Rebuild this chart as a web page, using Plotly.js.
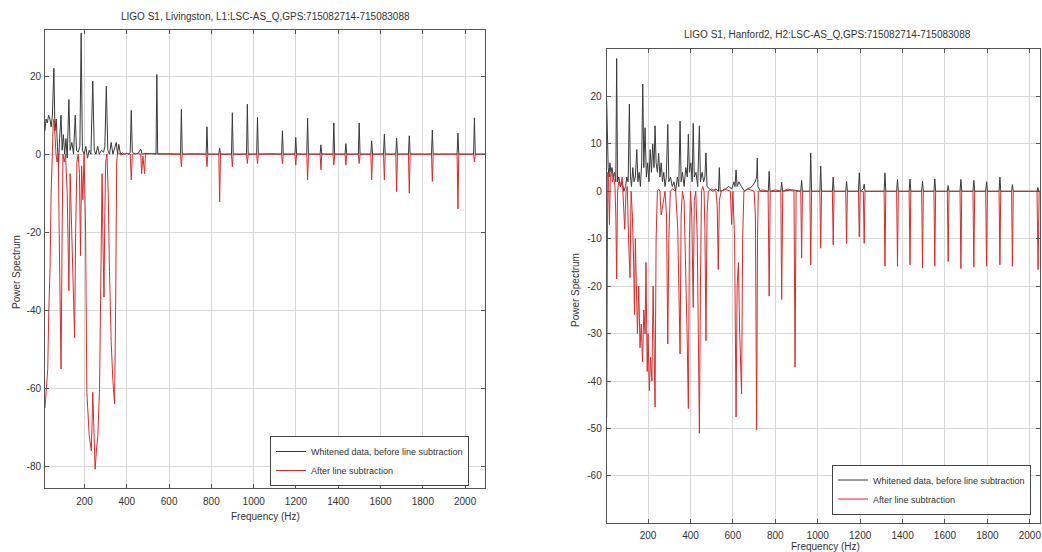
<!DOCTYPE html>
<html>
<head>
<meta charset="utf-8">
<script src="https://cdn.plot.ly/plotly-3.0.0.min.js"></script>
<style>html,body{margin:0;padding:0;background:#fff;}#chart{width:1042px;height:552px;}</style>
</head>
<body>
<div id="chart"></div>
<script>
// ---- Data (frequency Hz, power) ----
const seriesNames = ['Whitened data, before line subtraction', 'After line subtraction'];
const titleLiv = 'LIGO S1, Livingston, L1:LSC-AS_Q,GPS:715082714-715083088';
const titleHan = 'LIGO S1, Hanford2, H2:LSC-AS_Q,GPS:715082714-715083088';

const livBefore = [[13,6],[18,9],[24,8],[30,10],[36,9],[42,7],[48,10],[55,22],[60,6],[66,9],
 [72,2],[77,-3],[82,4],[89,10],[94,1],[100,5],[106,0],[112,4],[118,-1],[126,14],
 [132,1],[140,3],[148,0],[156,10],[162,1],[170,0.5],[178,2],[184,31],[190,1],[198,0],
 [206,2],[214,-1],[222,1],[230,0],[239,18.7],[246,1],[254,0],[262,2],[270,0],[280,1],
 [290,0.5],[296,2],[303,17.4],[310,1],[318,0],[326,3],[334,0],[342,1.5],[350,3],[356,0],
 [362,2.5],[370,0],[380,0.3],[390,0],[400,0.2],[410,0],[416,0.5],[421,11.2],[426,0.5],[440,0],
 [455,0.3],[466,1.3],[472,0],[490,0.2],[520,0],[538,0],[542,20.4],[546,0],[600,0.1],[654,0],
 [658,11.5],[662,0],[720,0.1],[775,0],[779,7],[783,0],[835,0],[839,1.5],[843,0],[895,0],
 [899,10.6],[903,0],[966,0],[970,12.8],[974,0],[1014,0],[1018,9.4],[1022,0],[1080,0.1],[1132,0],
 [1136,6],[1140,0],[1195,0],[1199,4.3],[1203,0],[1251,0],[1255,9.2],[1259,0],[1314,0],[1318,2.4],
 [1322,0],[1375,0],[1379,8],[1383,0],[1432,0],[1436,2.7],[1440,0],[1495,0],[1499,8],[1503,0],
 [1554,0],[1558,3.4],[1562,0],[1614,0],[1618,5.1],[1622,0],[1672,0],[1676,4.1],[1680,0],[1732,0],
 [1736,4.7],[1740,0],[1841,0],[1845,6.2],[1849,0],[1962,0],[1966,5.4],[1970,0],[2040,0],[2044,9.3],
 [2048,0],[2094,0]];

const livAfter = [[13,-65],[18,-60],[22,-57],[26,-55],[31,-40],[37,-29],[42,-10],[47,0],[52,8],[56,9],
 [60,4],[65,0],[70,-2],[76,0],[80,-20],[85,-40],[89,-55],[94,-20],[98,0],[104,-2],
 [110,0],[118,-10],[126,-35],[132,-5],[140,-20],[146,-30],[153,-47],[158,-20],[164,-2],[170,0],
 [176,-5],[181,-26],[186,-3],[192,-11.7],[198,0],[205,-20],[211,-61],[222,-72],[232,-76],[236,-68],
 [239,-61],[244,-70],[250,-80.7],[256,-76],[263,-72],[271,-60],[278,-30],[283,-5],[288,-25],[292,-36.6],
 [296,-15],[300,-2],[306,0],[312,-10],[318,-30],[326,-48],[334,-58],[342,-64],[347,-40],[352,-2],
 [356,0],[362,0.3],[370,-0.2],[380,0],[400,0.2],[416,0],[421,-6.6],[426,0],[440,0.2],[466,0],
 [470,-5],[476,-0.5],[484,-5],[488,0],[520,0.2],[600,0],[654,0],[658,-3.2],[662,0],[720,0],
 [775,0],[779,-3.2],[783,0],[835,0],[839,-12.2],[843,0],[895,0],[899,-3.2],[903,0],[966,0],
 [970,-2.4],[974,0],[1014,0],[1018,-2.4],[1022,0],[1132,0],[1136,-2.4],[1140,0],[1195,0],[1199,-2.8],
 [1203,0],[1251,0],[1255,-6.6],[1259,0],[1314,0],[1318,-4],[1322,0],[1375,0],[1379,-2.8],[1383,0],
 [1432,0],[1436,-2.8],[1440,0],[1495,0],[1499,-2.4],[1503,0],[1554,0],[1558,-6.6],[1562,0],[1614,0],
 [1618,-6.6],[1622,0],[1672,0],[1676,-9.6],[1680,0],[1732,0],[1736,-10],[1740,0],[1841,0],[1845,-7],
 [1849,0],[1962,0],[1966,-14],[1970,0],[2040,0],[2044,-2],[2048,0],[2094,0]];

const hanBefore = [[5,19],[8,12],[12,5],[16,3],[20,6],[25,4],[30,5],[36,3],[42,4],[48,2],
 [52,28],[56,2],[62,3],[70,1],[78,2],[86,0],[94,1],[100,3],[106,2],[112,18.4],
 [117,3],[122,1],[128,5],[134,2],[140,3],[147,8.8],[152,2],[158,4],[164,1],[170,6],
 [175,22.6],[180,5],[186,13.4],[192,3],[198,6],[204,2],[210,8.8],[216,4],[222,10],[228,5],
 [233,13.8],[238,6],[244,4],[250,8],[256,3],[262,6],[268,2],[274,4],[280,1],[286,3],
 [293,14.1],[298,2],[306,3],[314,1],[322,2],[330,0],[338,3],[345,1],[351,14.8],[356,2],
 [362,4],[370,1],[378,5],[385,3],[390,12],[395,4],[402,6],[408,2],[413,14.3],[418,3],
 [426,4],[434,1],[442,13.8],[447,2],[455,4],[462,2],[468,3],[473,8.1],[478,1],[490,0.5],
 [505,0],[520,0.5],[532,0],[536,5],[540,0],[560,0.3],[580,1],[595,0.5],[605,2],[610,1],
 [615,4.5],[620,1],[628,2],[640,1],[655,0],[670,0.5],[690,1],[705,2],[712,3],[715,7],
 [718,1],[730,0],[767,0],[771,4.2],[775,0],[826,0],[830,1.9],[834,0],[880,0.3],[920,0],
 [924,2.3],[928,0],[963,0],[967,8.1],[971,0],[1010,0],[1014,5.3],[1018,0],[1069,0],[1073,3],
 [1077,0],[1132,0],[1136,2.1],[1140,0],[1192,0],[1196,3.9],[1200,0],[1215,0.5],[1219,1.5],[1223,0],
 [1313,0],[1317,3.9],[1321,0],[1372,0],[1376,2.5],[1380,0],[1431,0],[1435,2.6],[1439,0],[1490,0],
 [1494,2.1],[1498,0],[1548,0],[1552,2.6],[1556,0],[1611,0],[1615,1.2],[1619,0],[1671,0],[1675,2.5],
 [1679,0],[1732,0],[1736,2.3],[1740,0],[1792,0],[1796,2],[1800,0],[1855,0],[1859,3],[1863,0],
 [1914,0],[1918,1.4],[1922,0],[2034,0],[2038,0.8],[2042,0],[2048,0]];

const hanAfter = [[5,-47.6],[7,0],[10,4],[14,2],[18,-7],[22,3],[28,4.5],[32,2],[38,3],[44,1],
 [48,-5],[52,-18.5],[56,0],[62,2],[70,1],[78,3],[84,-2],[90,-8],[96,0],[102,1],
 [108,-10],[115,-18.2],[120,0],[126,-5],[132,-15],[136,-26],[140,-10],[146,-22],[150,-30],[156,-20],
 [162,-33],[168,-28],[174,-36],[180,-25],[186,-30.1],[190,-15],[196,-38],[200,-30],[206,-42],[212,-35],
 [218,-40],[224,-20],[228,-38],[233,-45.5],[238,-10],[244,0],[250,0.5],[256,0],[262,-5],[270,-3],
 [280,0],[287,-5],[293,-32.2],[298,-10],[305,0],[315,0.5],[330,0],[340,-8],[346,-20],[351,-34.3],
 [356,-5],[362,0],[370,-2],[378,-15],[384,-30],[390,-45.8],[395,-10],[400,0],[406,-5],[413,-24.5],
 [418,-2],[425,0],[432,-10],[437,-30],[442,-51],[447,-20],[452,0],[458,1],[464,0],[468,-8],
 [473,-31.5],[478,-5],[484,0],[500,0.5],[520,0],[526,-3],[531,-16.5],[536,-2],[545,0],[560,0.5],
 [588,0],[594,-7],[600,0],[608,-10],[615,-47.6],[620,-20],[626,-15],[632,-30],[641,-42.7],[646,-10],
 [652,0],[670,0.5],[700,0],[706,-5],[712,-50.3],[716,-10],[720,0],[740,0.3],[766,0],[771,-22.1],
 [776,0],[800,0.3],[826,0],[830,-22.8],[835,0],[860,0.5],[888,0],[893,-37.1],[898,0],[920,0],
 [924,-14.1],[928,0],[963,0],[967,-15.5],[971,0],[1010,0],[1014,-12],[1018,0],[1069,0],[1073,-11.3],
 [1077,0],[1132,0],[1136,-11],[1140,0],[1192,0],[1196,-9.6],[1200,0],[1215,0],[1219,-11],[1223,0],
 [1313,0],[1317,-15.8],[1321,0],[1372,0],[1376,-15.8],[1380,0],[1431,0],[1435,-15.5],[1439,0],[1490,0],
 [1494,-16.2],[1498,0],[1548,0],[1552,-15.8],[1556,0],[1611,0],[1615,-14.8],[1619,0],[1671,0],[1675,-16.3],
 [1679,0],[1732,0],[1736,-16],[1740,0],[1792,0],[1796,-15.8],[1800,0],[1855,0],[1859,-15.5],[1863,0],
 [1914,0],[1918,-15.8],[1922,0],[2034,0],[2039,-16.5],[2044,0],[2048,0]];

const xTickVals = [200,400,600,800,1000,1200,1400,1600,1800,2000];
const xTickText = ['200','400','600','800','1000','1200','1400','1600','1800','2000'];
const yTickValsL = [-80,-60,-40,-20,0,20];
const yTickTextL = ['-80','-60','-40','-20','0','20'];
const yTickValsR = [-60,-50,-40,-30,-20,-10,0,10,20];
const yTickTextR = ['-60','-50','-40','-30','-20','-10','0','10','20'];

// ---- Plot ----
const FONT = 'Liberation Sans, Arial, sans-serif';
const BLACK = '#3a3a3a';
const RED = 'rgb(214,45,45)';
const W = 1042, H = 552;

function trace(pts, name, color, xa, ya, leg) {
  return {x: pts.map(p => p[0]), y: pts.map(p => p[1]), type: 'scatter', mode: 'lines',
    name: name, line: {color: color, width: 1}, xaxis: xa, yaxis: ya, legend: leg,
    hoverinfo: 'x+y'};
}

const data = [
  trace(livBefore, seriesNames[0], BLACK, 'x', 'y', 'legend'),
  trace(livAfter, seriesNames[1], RED, 'x', 'y', 'legend'),
  trace(hanBefore, seriesNames[0], BLACK, 'x2', 'y2', 'legend2'),
  trace(hanAfter, seriesNames[1], RED, 'x2', 'y2', 'legend2')
];

const ax = {showline: true, mirror: 'ticks', linecolor: '#555', linewidth: 1,
  ticks: 'inside', ticklen: 4, tickcolor: '#555', showgrid: true, gridcolor: '#d8d8d8',
  gridwidth: 1, zeroline: false, tickfont: {size: 10, color: '#333', family: FONT},
  tickmode: 'array', fixedrange: true};

const legendBase = {xanchor: 'left', yanchor: 'middle', bordercolor: '#444', borderwidth: 1,
  bgcolor: '#fff', font: {size: 9, color: '#333', family: FONT}, tracegroupgap: 0, itemwidth: 30};

const layout = {
  width: W, height: H, margin: {l: 0, r: 0, t: 0, b: 0},
  paper_bgcolor: '#fff', plot_bgcolor: '#fff',
  font: {family: FONT, color: '#333'},
  xaxis: Object.assign({}, ax, {domain: [45/W, 485/W], range: [13, 2094], anchor: 'y',
    tickvals: xTickVals, ticktext: xTickText, ticklabelstandoff: 4}),
  yaxis: Object.assign({}, ax, {domain: [1-488/H, 1-30/H], range: [-85.5, 31.8], anchor: 'x',
    tickvals: yTickValsL, ticktext: yTickTextL, ticklabelstandoff: 1}),
  xaxis2: Object.assign({}, ax, {domain: [606.7/W, 1040/W], range: [5, 2048], anchor: 'y2',
    tickvals: xTickVals, ticktext: xTickText, ticklabelstandoff: 3}),
  yaxis2: Object.assign({}, ax, {domain: [1-523.3/H, 1-49/H], range: [-70, 30], anchor: 'x2',
    tickvals: yTickValsR, ticktext: yTickTextR, ticklabelstandoff: 2}),
  showlegend: true,
  legend: Object.assign({}, legendBase, {x: 270/W, y: 1-461/H}),
  legend2: Object.assign({}, legendBase, {x: 832/W, y: 1-489.5/H}),
  annotations: [
    {text: titleLiv, xref: 'paper', yref: 'paper', x: 265/W, y: 1-16/H, showarrow: false,
     xanchor: 'center', yanchor: 'middle', font: {size: 10, color: '#333'}},
    {text: titleHan, xref: 'paper', yref: 'paper', x: 827/W, y: 1-35/H, showarrow: false,
     xanchor: 'center', yanchor: 'middle', font: {size: 10, color: '#333'}},
    {text: 'Frequency (Hz)', xref: 'paper', yref: 'paper', x: 265/W, y: 1-516/H, showarrow: false,
     xanchor: 'center', yanchor: 'middle', font: {size: 10, color: '#333'}},
    {text: 'Frequency (Hz)', xref: 'paper', yref: 'paper', x: 825/W, y: 1-546/H, showarrow: false,
     xanchor: 'center', yanchor: 'middle', font: {size: 10, color: '#333'}},
    {text: 'Power Spectrum', xref: 'paper', yref: 'paper', x: 16/W, y: 1-272/H, showarrow: false,
     textangle: -90, xanchor: 'center', yanchor: 'middle', font: {size: 10, color: '#333'}},
    {text: 'Power Spectrum', xref: 'paper', yref: 'paper', x: 575/W, y: 1-290/H, showarrow: false,
     textangle: -90, xanchor: 'center', yanchor: 'middle', font: {size: 10, color: '#333'}}
  ]
};

Plotly.newPlot('chart', data, layout, {displayModeBar: false, staticPlot: true});
</script>
</body>
</html>
